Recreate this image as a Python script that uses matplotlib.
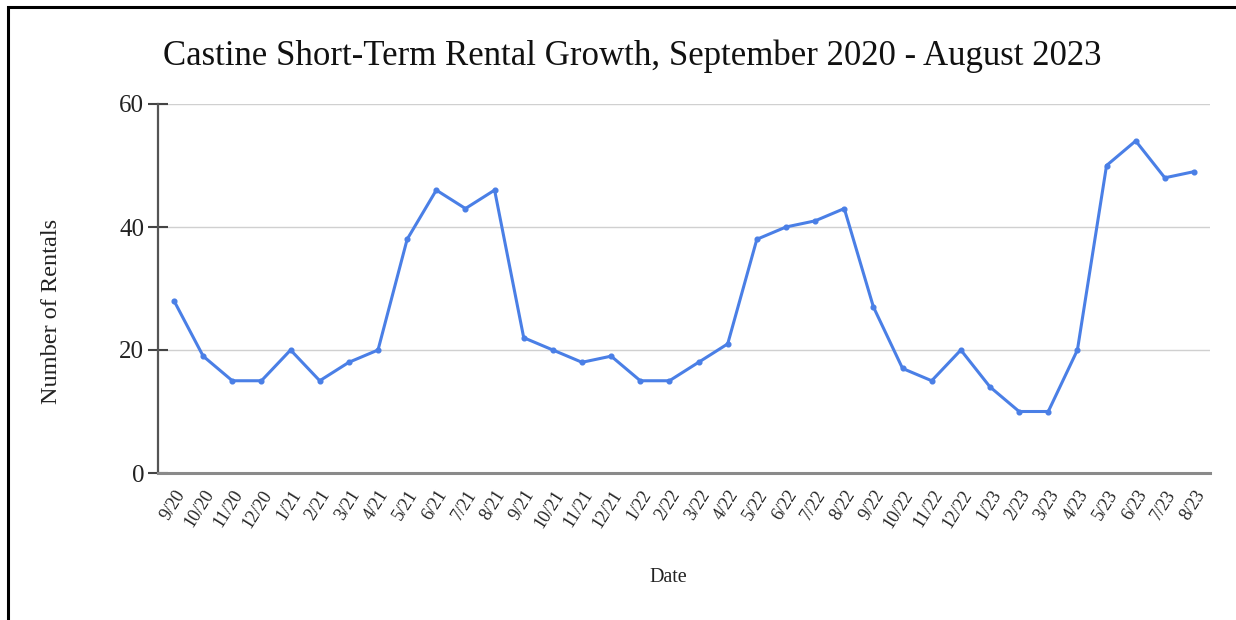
import matplotlib
matplotlib.use("Agg")
import matplotlib.pyplot as plt
from matplotlib.patches import Rectangle

months = ["9/20", "10/20", "11/20", "12/20", "1/21", "2/21", "3/21", "4/21", "5/21",
          "6/21", "7/21", "8/21", "9/21", "10/21", "11/21", "12/21", "1/22", "2/22",
          "3/22", "4/22", "5/22", "6/22", "7/22", "8/22", "9/22", "10/22", "11/22",
          "12/22", "1/23", "2/23", "3/23", "4/23", "5/23", "6/23", "7/23", "8/23"]
rentals = [28, 19, 15, 15, 20, 15, 18, 20, 38,
           46, 43, 46, 22, 20, 18, 19, 15, 15,
           18, 21, 38, 40, 41, 43, 27, 17, 15,
           20, 14, 10, 10, 20, 50, 54, 48, 49]
y_ticks = [0, 20, 40, 60]

plt.rcParams["font.family"] = ["Liberation Serif", "DejaVu Serif"]

fig = plt.figure(figsize=(12.36, 6.2), dpi=100)
fig.patch.set_facecolor("white")

# outer frame (open on the right and bottom)
fig.patches.append(Rectangle((7.5 / 1236, -0.05), 1.2, 1 - 6.5 / 620 + 0.05,
                             transform=fig.transFigure, fill=False,
                             edgecolor="black", linewidth=2.2))

ax = fig.add_axes([158 / 1236, 1 - 473 / 620, (1210 - 158) / 1236, (473 - 104) / 620])
x = list(range(len(months)))
ax.plot(x, rentals, color="#4A7FE6", linewidth=2.2, marker="o", markersize=3.4,
        solid_joinstyle="round", zorder=3)

ax.set_xlim(-0.55, len(months) - 0.45)
ax.set_ylim(0, 60)
ax.set_yticks(y_ticks)
ax.set_yticklabels([str(v) for v in y_ticks], fontsize=18, color="#222222")
ax.set_xticks(x)
ax.set_xticklabels(months, rotation=58, ha="right", rotation_mode="anchor",
                   fontsize=13, color="#222222")
ax.tick_params(axis="x", length=0, pad=10)
ax.tick_params(axis="y", direction="inout", length=14, width=1.5, color="#444444", pad=3)
for lbl in ax.get_xticklabels():
    lbl.set_x(lbl.get_position()[0])

ax.grid(axis="y", color="#d0d0d0", linewidth=1.0)
ax.set_axisbelow(True)
for side in ("top", "right"):
    ax.spines[side].set_visible(False)
ax.spines["left"].set_color("#555555")
ax.spines["left"].set_linewidth(1.6)
ax.spines["bottom"].set_color("#8a8a8a")
ax.spines["bottom"].set_linewidth(2.2)

fig.text(632 / 1236, 1 - 56 / 620,
         "Castine Short-Term Rental Growth, September 2020 - August 2023",
         ha="center", va="center", fontsize=25, color="#111111")
fig.text(52 / 1236, 1 - 311 / 620, "Number of Rentals", rotation=90,
         ha="center", va="center", fontsize=17.5, color="#222222")
fig.text(668 / 1236, 1 - 578 / 620, "Date", ha="center", va="center",
         fontsize=14.5, color="#222222")

fig.savefig("out.png", dpi=100, facecolor="white")
